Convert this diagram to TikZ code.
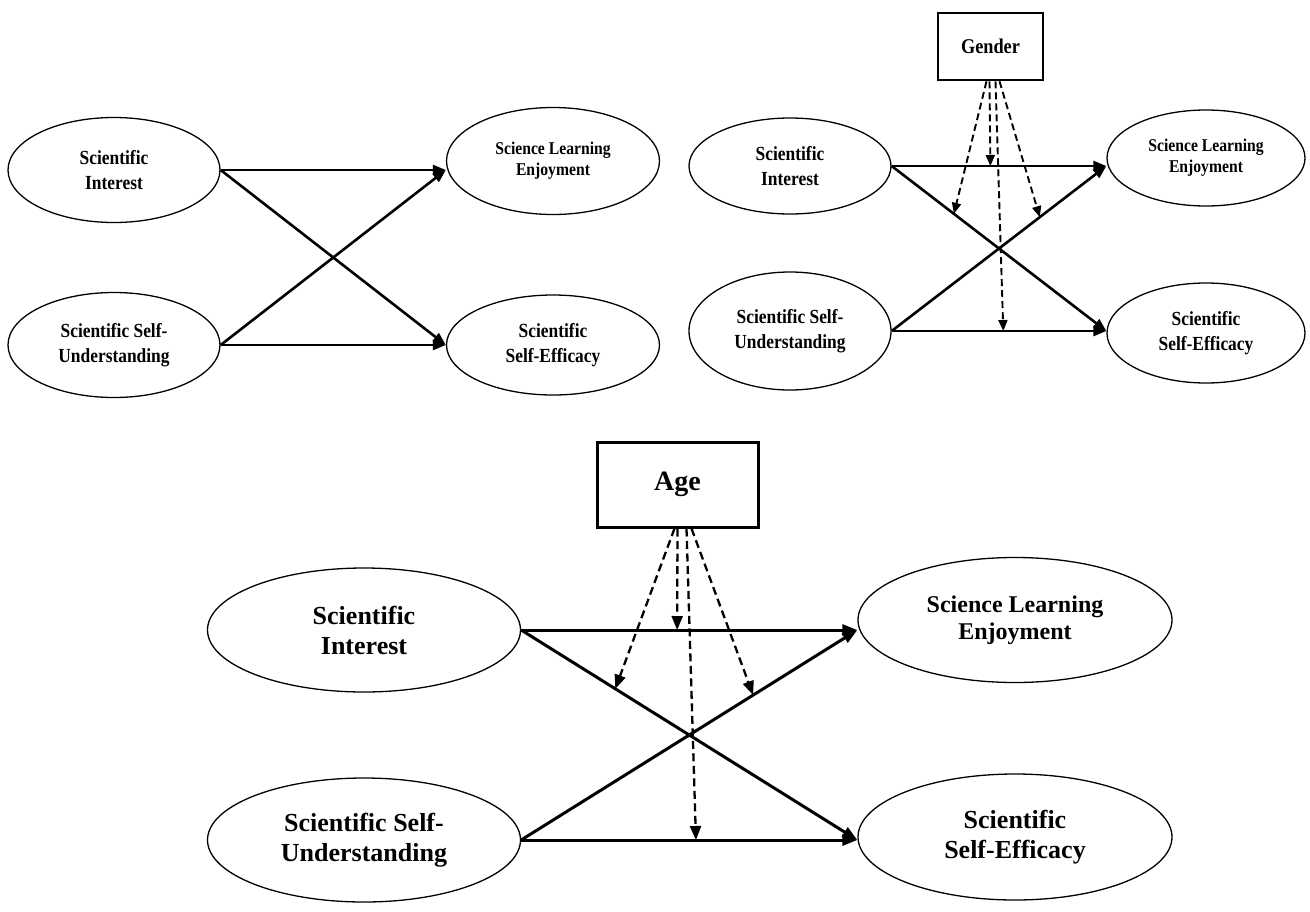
\documentclass[tikz,border=0pt]{standalone}
\usepackage{fontspec}
\setmainfont{Liberation Serif}
\newfontfamily\narrowfont{Liberation Serif}[FakeStretch=0.87]
\usetikzlibrary{shapes.geometric,arrows.meta}
\begin{document}
\begin{tikzpicture}[x=1pt,y=-1pt,
  ell/.style={draw, ellipse, line width=1.3pt, inner sep=0pt, align=center},
  topfont/.style={font={\narrowfont\bfseries\fontsize{20}{25}\selectfont}},
  topfontsm/.style={font={\narrowfont\bfseries\fontsize{18}{21}\selectfont}},
  botfont/.style={font={\bfseries\fontsize{26}{30}\selectfont}},
  botfontsm/.style={font={\bfseries\fontsize{24}{27}\selectfont}},
  modbox/.style={draw, rectangle, inner sep=0pt, align=center},
  toparrow/.style={line width=2.6pt, -{Triangle[length=13pt,width=10pt]}},
  botarrow/.style={line width=3pt, -{Triangle[length=15pt,width=11pt]}},
  topdash/.style={line width=1.9pt, dash pattern=on 7pt off 4pt, -{Triangle[length=11pt,width=9pt]}},
  botdash/.style={line width=2.3pt, dash pattern=on 8pt off 4.5pt, -{Triangle[length=14pt,width=11pt]}}
]
\useasboundingbox[fill=white] (0,0) rectangle (1310,911);

% ---------------- top-left ----------------
\node[ell, topfont, minimum width=212pt, minimum height=105pt] (asi) at (114,170) {Scientific\\Interest};
\node[ell, topfont, minimum width=212pt, minimum height=105pt] (asu) at (114,345) {Scientific Self-\\Understanding};
\node[ell, topfontsm, minimum width=213pt, minimum height=107pt] (asle) at (553,161) {Science Learning\\Enjoyment};
\node[ell, topfont, minimum width=213pt, minimum height=100pt] (ase) at (553,345) {Scientific\\Self-Efficacy};

\draw[toparrow] (asi.east) -- (asle.west |- asi.east);
\draw[toparrow] (asi.east) -- (ase.west |- asu.east);
\draw[toparrow] (asu.east) -- (asle.west |- asi.east);
\draw[toparrow] (asu.east) -- (ase.west |- asu.east);

% ---------------- top-right ----------------
\node[modbox, line width=2.6pt, font={\narrowfont\bfseries\fontsize{21}{25}\selectfont}, minimum width=105pt, minimum height=67pt] (tg) at (990.5,46.5) {Gender};
\node[ell, topfont, minimum width=202pt, minimum height=96pt] (tsi) at (790,166) {Scientific\\Interest};
\node[ell, topfont, minimum width=202pt, minimum height=118pt] (tsu) at (790,331) {Scientific Self-\\Understanding};
\node[ell, topfontsm, minimum width=198pt, minimum height=96pt] (tsle) at (1206,158) {Science Learning\\Enjoyment};
\node[ell, topfont, minimum width=198pt, minimum height=100pt] (tse) at (1206,333) {Scientific\\Self-Efficacy};

\draw[toparrow] (tsi.east) -- coordinate[pos=0.46] (tm2) (tsle.west |- tsi.east);
\draw[toparrow] (tsi.east) -- coordinate[pos=0.29] (tm1) (tse.west |- tsu.east);
\draw[toparrow] (tsu.east) -- coordinate[pos=0.69] (tm3) (tsle.west |- tsi.east);
\draw[toparrow] (tsu.east) -- coordinate[pos=0.52] (tm4) (tse.west |- tsu.east);

\draw[topdash] ([xshift=-4pt]tg.south) -- (tm1);
\draw[topdash] ([xshift=-1pt]tg.south) -- (tm2);
\draw[topdash] ([xshift=5pt]tg.south) -- (tm4);
\draw[topdash] ([xshift=9pt]tg.south) -- (tm3);

% ---------------- bottom ----------------
\node[modbox, line width=3pt, font={\bfseries\fontsize{28}{32}\selectfont}, minimum width=161pt, minimum height=85pt] (bage) at (677.5,484.5) {Age};
\node[ell, botfont, minimum width=313pt, minimum height=124pt] (bsi) at (364,630) {Scientific\\Interest};
\node[ell, botfont, minimum width=313pt, minimum height=124pt] (bsu) at (364,840) {Scientific Self-\\Understanding};
\node[ell, botfontsm, minimum width=314pt, minimum height=125pt] (bsle) at (1015,620) {Science Learning\\Enjoyment};
\node[ell, botfont, minimum width=314pt, minimum height=126pt] (bse) at (1015,837) {Scientific\\Self-Efficacy};

\draw[botarrow] (bsi.east) -- coordinate[pos=0.464] (bm2) (bsle.west |- bsi.east);
\draw[botarrow] (bsi.east) -- coordinate[pos=0.28] (bm1) (bse.west |- bsu.east);
\draw[botarrow] (bsu.east) -- coordinate[pos=0.69] (bm3) (bsle.west |- bsi.east);
\draw[botarrow] (bsu.east) -- coordinate[pos=0.52] (bm4) (bse.west |- bsu.east);

\draw[botdash] ([xshift=-3pt]bage.south) -- (bm1);
\draw[botdash] ([xshift=0pt]bage.south) -- (bm2);
\draw[botdash] ([xshift=9pt]bage.south) -- (bm4);
\draw[botdash] ([xshift=14pt]bage.south) -- (bm3);
\end{tikzpicture}
\end{document}
